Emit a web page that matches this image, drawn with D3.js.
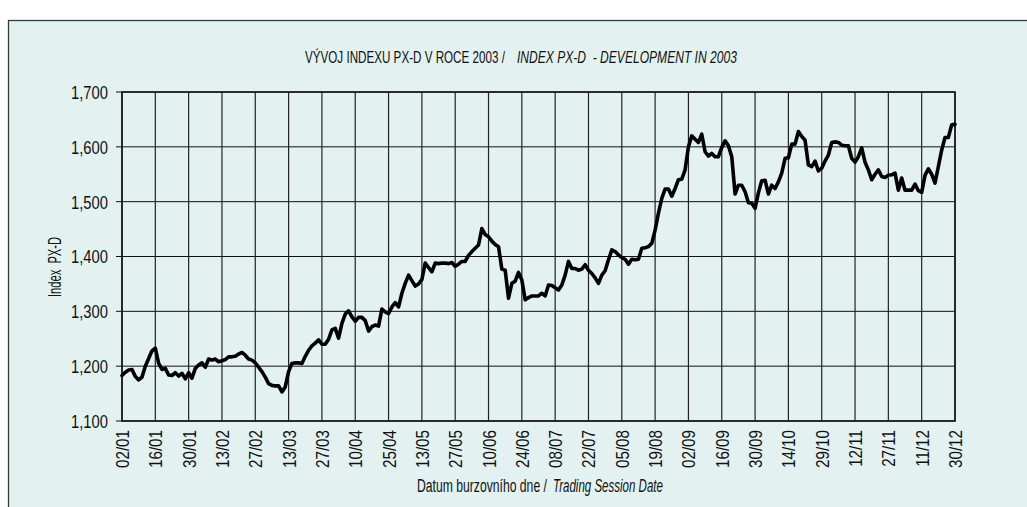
<!DOCTYPE html>
<html>
<head>
<meta charset="utf-8">
<script src="https://cdn.jsdelivr.net/npm/d3@7"></script>
<style>
  html, body { margin: 0; padding: 0; background: #ffffff; }
  svg { display: block; }
  text { font-family: 'Liberation Sans Narrow', 'Liberation Sans', Arial, sans-serif; fill: #111; }
</style>
</head>
<body>
<script>
// ---- data ----
const tickLabels = ["02/01","16/01","30/01","13/02","27/02","13/03","27/03","10/04","25/04","13/05",
  "27/05","10/06","24/06","08/07","22/07","05/08","19/08","02/09","16/09","30/09",
  "14/10","29/10","12/11","27/11","11/12","30/12"];
const yTicks = [1100, 1200, 1300, 1400, 1500, 1600, 1700];
const values = [
  1183,1189,1193,1194,1181,1175,1180,1200,1214,1228,
  1233,1205,1194,1196,1184,1183,1188,1182,1187,1177,
  1188,1178,1196,1202,1206,1198,1213,1211,1213,1208,
  1210,1212,1217,1217,1218,1222,1225,1220,1213,1211,
  1206,1198,1190,1180,1168,1165,1164,1164,1153,1162,
  1190,1205,1206,1206,1205,1218,1229,1237,1242,1248,
  1240,1240,1249,1266,1269,1251,1278,1295,1301,1290,
  1282,1289,1289,1283,1264,1272,1275,1273,1304,1299,
  1296,1308,1316,1308,1333,1351,1366,1356,1346,1350,
  1358,1388,1380,1372,1388,1387,1388,1388,1387,1389,
  1382,1386,1391,1391,1402,1409,1415,1421,1451,1440,
  1436,1428,1422,1418,1377,1375,1324,1351,1355,1371,
  1357,1321,1325,1328,1328,1328,1333,1328,1348,1347,
  1343,1339,1348,1366,1391,1378,1378,1375,1377,1385,
  1375,1369,1361,1351,1366,1374,1394,1412,1409,1403,
  1398,1395,1386,1395,1394,1395,1415,1416,1418,1424,
  1448,1479,1506,1523,1523,1510,1524,1540,1541,1558,
  1600,1620,1614,1608,1623,1591,1583,1588,1582,1582,
  1599,1611,1602,1582,1514,1530,1530,1518,1498,1497,
  1488,1516,1538,1539,1514,1530,1524,1536,1552,1579,
  1580,1605,1605,1628,1619,1612,1567,1564,1574,1556,
  1561,1574,1585,1608,1609,1608,1603,1602,1602,1579,
  1572,1582,1598,1572,1558,1540,1550,1558,1546,1544,
  1548,1549,1552,1521,1543,1521,1521,1521,1532,1520,
  1517,1548,1560,1550,1534,1564,1594,1617,1617,1640,
  1641
];
const titleMain = "VÝVOJ INDEXU PX-D V ROCE 2003 /";
const titleItalic = "INDEX PX-D  - DEVELOPMENT IN 2003";
const xTitleMain = "Datum burzovního dne /";
const xTitleItalic = "Trading Session Date";
const yTitle = "Index  PX-D";

// ---- layout ----
const W = 1027, H = 507;
const L = 122, R = 955, T = 92, B = 421;
const svg = d3.select("body").append("svg").attr("width", W).attr("height", H);

svg.append("rect").attr("x", 8.5).attr("y", 20.5).attr("width", 1100).attr("height", 600)
  .attr("fill", "#e3f1f1").attr("stroke", "#3a3a3a").attr("stroke-width", 1.3);

const x = d3.scaleLinear().domain([0, values.length - 1]).range([L, R]);
const y = d3.scaleLinear().domain([1100, 1700]).range([B, T]);
const tickIdx = tickLabels.map((_, i) => i * 10);

// grid
const g = svg.append("g");
g.selectAll("line.h").data(yTicks).join("line")
  .attr("x1", L - 6).attr("x2", R).attr("y1", d => y(d)).attr("y2", d => y(d))
  .attr("stroke", "#111").attr("stroke-width", 1);
g.selectAll("line.v").data(tickIdx).join("line")
  .attr("x1", d => x(d)).attr("x2", d => x(d)).attr("y1", T).attr("y2", B)
  .attr("stroke", "#222").attr("stroke-width", 1.2);
g.append("rect").attr("x", L).attr("y", T).attr("width", R - L).attr("height", B - T)
  .attr("fill", "none").attr("stroke", "#111").attr("stroke-width", 1.5);

// y axis labels (condensed to match the narrow face)
const yAxis = svg.append("g").attr("transform", `translate(${L},0)`)
  .call(d3.axisLeft(y).tickValues(yTicks).tickSize(0).tickFormat(d3.format(",")));
yAxis.select(".domain").remove();
const yTxt = yAxis.selectAll("text").style("font-size", "18px").attr("fill", "#111").attr("font-family", null);
const ySx = 37 / yTxt.nodes()[yTxt.size() - 1].getComputedTextLength();
yTxt.attr("x", 0).attr("text-anchor", "end").attr("dy", "0.36em")
  .attr("transform", `translate(-14,0) scale(${ySx},1)`);

// x axis labels
const xAxis = svg.append("g").attr("transform", `translate(0,${B})`)
  .call(d3.axisBottom(x).tickValues(tickIdx).tickSize(0).tickFormat((d, i) => tickLabels[i]));
xAxis.select(".domain").remove();
const xTxt = xAxis.selectAll("text").style("font-size", "18px").attr("fill", "#111").attr("font-family", null);
const xSx = 38 / xTxt.nodes()[0].getComputedTextLength();
xTxt.attr("text-anchor", "end").attr("x", 0).attr("y", 0).attr("dy", "0.36em")
  .attr("transform", `rotate(-90) translate(-9,0) scale(${xSx},1)`);

// line
svg.append("path").datum(values)
  .attr("fill", "none").attr("stroke", "#000").attr("stroke-width", 3.6)
  .attr("stroke-linejoin", "round").attr("stroke-linecap", "round")
  .attr("d", d3.line().x((d, i) => x(i)).y(d => y(d)));

// fitted free texts
function fitText(str, px, py, size, italic, targetW, anchor, rot) {
  const t = svg.append("text").attr("x", 0).attr("y", 0)
    .attr("text-anchor", anchor || "start")
    .style("font-size", size + "px").style("font-style", italic ? "italic" : "normal")
    .style("white-space", "pre").text(str);
  const s = targetW / t.node().getComputedTextLength();
  t.attr("transform", `translate(${px},${py}) rotate(${rot || 0}) scale(${s},1)`);
  return t;
}
fitText(titleMain, 305, 63, 17, false, 200);
fitText(titleItalic, 517, 63, 17, true, 220);
fitText(xTitleMain, 417, 492, 18, false, 130);
fitText(xTitleItalic, 553, 492, 18, true, 110);
fitText(yTitle, 61, 267, 18, false, 60, "middle", -90);
</script>
</body>
</html>
